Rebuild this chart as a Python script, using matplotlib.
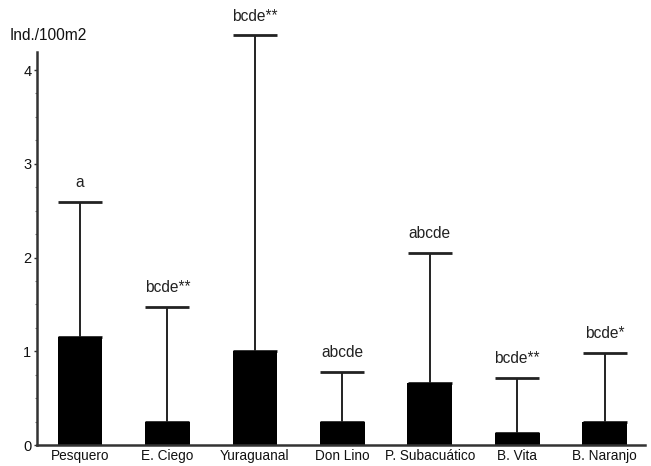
import matplotlib
matplotlib.use("Agg")
import matplotlib.pyplot as plt
import numpy as np
from matplotlib.ticker import MultipleLocator

# density per site (Ind./100m2), upper error limit and significance group
sites = ["Pesquero", "E. Ciego", "Yuraguanal", "Don Lino",
         "P. Subacuático", "B. Vita", "B. Naranjo"]
means = [1.15, 0.25, 1.0, 0.25, 0.66, 0.13, 0.25]
upper = [2.59, 1.47, 4.37, 0.78, 2.05, 0.72, 0.98]
groups = ["a", "bcde**", "bcde**", "abcde", "abcde", "bcde**", "bcde*"]

plt.rcParams['font.family'] = ['Liberation Sans', 'DejaVu Sans']

fig = plt.figure(figsize=(6.51, 4.66), dpi=100)
ax = fig.add_axes([0.0568, 0.0450, 0.934, 0.843])

x = np.arange(len(sites))
err = np.array(upper) - np.array(means)
ax.bar(x, means, width=0.51, color="black", zorder=2)
eb = ax.errorbar(x, means, yerr=[np.zeros_like(err), err], fmt="none",
                 ecolor="#222222", elinewidth=1.4, capsize=15.8, capthick=2,
                 zorder=1)
for art in eb.lines[1] + eb.lines[2]:
    art.set_clip_on(False)

for xi, top, g in zip(x, upper, groups):
    ax.annotate(g, (xi, top), xytext=(0, 8.5), textcoords="offset points",
                ha="center", va="bottom", fontsize=11.2, color="#222222",
                annotation_clip=False)

ax.set_xlim(-0.49, 6.46)
ax.set_ylim(0, 4.19)
ax.set_xticks(x)
ax.set_xticklabels(sites, fontsize=9.8)
ax.set_yticks([0, 1, 2, 3, 4])
ax.yaxis.set_minor_locator(MultipleLocator(0.25))
ax.tick_params(axis="x", length=0, pad=3, colors="#111111")
ax.tick_params(axis="y", which="major", length=2, width=1, pad=2,
               labelsize=10.5, colors="#333333", labelcolor="#111111")
ax.tick_params(axis="y", which="minor", length=1.2, width=0.8, colors="#777777")

for side in ("top", "right"):
    ax.spines[side].set_visible(False)
for side in ("left", "bottom"):
    ax.spines[side].set_linewidth(1.8)
    ax.spines[side].set_color("#333333")

fig.text(0.015, 0.923, "Ind./100m2", fontsize=11.2, va="center", ha="left",
         color="#111111")

fig.savefig("out.png", dpi=100)
